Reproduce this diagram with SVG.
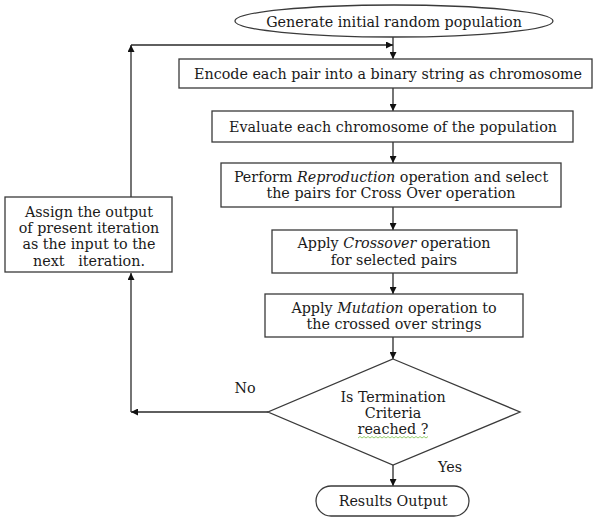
<svg xmlns="http://www.w3.org/2000/svg" width="604" height="517" viewBox="0 0 604 517">
<style>
.n{fill:#fff;stroke:#3a3a3a;stroke-width:1.3}
.t{font-family:"DejaVu Serif","Liberation Serif",serif;font-size:14.3px;fill:#1a1a1a;text-anchor:middle;dominant-baseline:central}
.c{fill:none;stroke:#2a2a2a;stroke-width:1.3}
</style>
<defs>
<marker id="ah" viewBox="0 0 10 10" refX="10" refY="5" markerWidth="8" markerHeight="7" markerUnits="userSpaceOnUse" orient="auto">
<path d="M0,0L10,5L0,10z" fill="#111"/>
</marker>
</defs>
<rect width="604" height="517" fill="#fff"/>
<g id="connectors">
<line class="c" x1="393" y1="37" x2="393" y2="59" marker-end="url(#ah)"/>
<line class="c" x1="131" y1="45" x2="393" y2="45" marker-end="url(#ah)"/>
<line class="c" x1="131" y1="197" x2="131" y2="45" marker-end="url(#ah)"/>
<line class="c" x1="393" y1="88" x2="393" y2="111" marker-end="url(#ah)"/>
<line class="c" x1="393" y1="142" x2="393" y2="163" marker-end="url(#ah)"/>
<line class="c" x1="393" y1="207" x2="393" y2="230" marker-end="url(#ah)"/>
<line class="c" x1="393" y1="273" x2="393" y2="294" marker-end="url(#ah)"/>
<line class="c" x1="393" y1="337" x2="393" y2="359" marker-end="url(#ah)"/>
<line class="c" x1="393" y1="465" x2="393" y2="486" marker-end="url(#ah)"/>
<line class="c" x1="268" y1="412" x2="131" y2="412" marker-end="url(#ah)"/>
<line class="c" x1="131" y1="412" x2="131" y2="273" marker-end="url(#ah)"/>
<text class="t" x="245" y="388">No</text>
<text class="t" x="450" y="467">Yes</text>
</g>
<g id="start">
<ellipse class="n" cx="394" cy="21" rx="159" ry="16"/>
<text class="t" x="394" y="22">Generate initial random population</text>
</g>
<g id="encode">
<rect class="n" x="179" y="59" width="413" height="29"/>
<text class="t" x="388" y="74">Encode each pair into a binary string as chromosome</text>
</g>
<g id="evaluate">
<rect class="n" x="212" y="111" width="361" height="31"/>
<text class="t" x="393" y="127">Evaluate each chromosome of the population</text>
</g>
<g id="reproduction">
<rect class="n" x="221" y="163" width="340" height="44"/>
<text class="t" x="391" y="177">Perform <tspan font-style="italic">Reproduction</tspan> operation and select</text>
<text class="t" x="391" y="193">the pairs for Cross Over operation</text>
</g>
<g id="crossover">
<rect class="n" x="272" y="230" width="245" height="43"/>
<text class="t" x="394" y="243">Apply <tspan font-style="italic">Crossover</tspan> operation</text>
<text class="t" x="394" y="260">for selected pairs</text>
</g>
<g id="mutation">
<rect class="n" x="265" y="294" width="258" height="43"/>
<text class="t" x="394" y="308">Apply <tspan font-style="italic">Mutation</tspan> operation to</text>
<text class="t" x="394" y="324">the crossed over strings</text>
</g>
<g id="decision">
<polygon class="n" points="393,359 520,412 393,465 268,412" stroke="#555"/>
<text class="t" x="393" y="397">Is Termination</text>
<text class="t" x="393" y="413">Criteria</text>
<text class="t" x="393" y="429">reached ?</text>
<polyline fill="none" stroke="#7cc24a" stroke-width="0.8" points="358,438 360,436.5 362,438 364,436.5 366,438 368,436.5 370,438 372,436.5 374,438 376,436.5 378,438 380,436.5 382,438 384,436.5 386,438 388,436.5 390,438 392,436.5 394,438 396,436.5 398,438 400,436.5 402,438 404,436.5 406,438 408,436.5 410,438 412,436.5 414,438 416,436.5 418,438 420,436.5 422,438 424,436.5 426,438 428,436.5"/>
</g>
<g id="assign">
<rect class="n" x="5" y="197" width="167" height="75"/>
<text class="t" x="89" y="212">Assign the output</text>
<text class="t" x="89" y="228">of present iteration</text>
<text class="t" x="89" y="244">as the input to the</text>
<text class="t" x="89" y="261" xml:space="preserve">next   iteration.</text>
</g>
<g id="results">
<rect class="n" x="316" y="486" width="153" height="30" rx="15"/>
<text class="t" x="393" y="501">Results Output</text>
</g>
</svg>
